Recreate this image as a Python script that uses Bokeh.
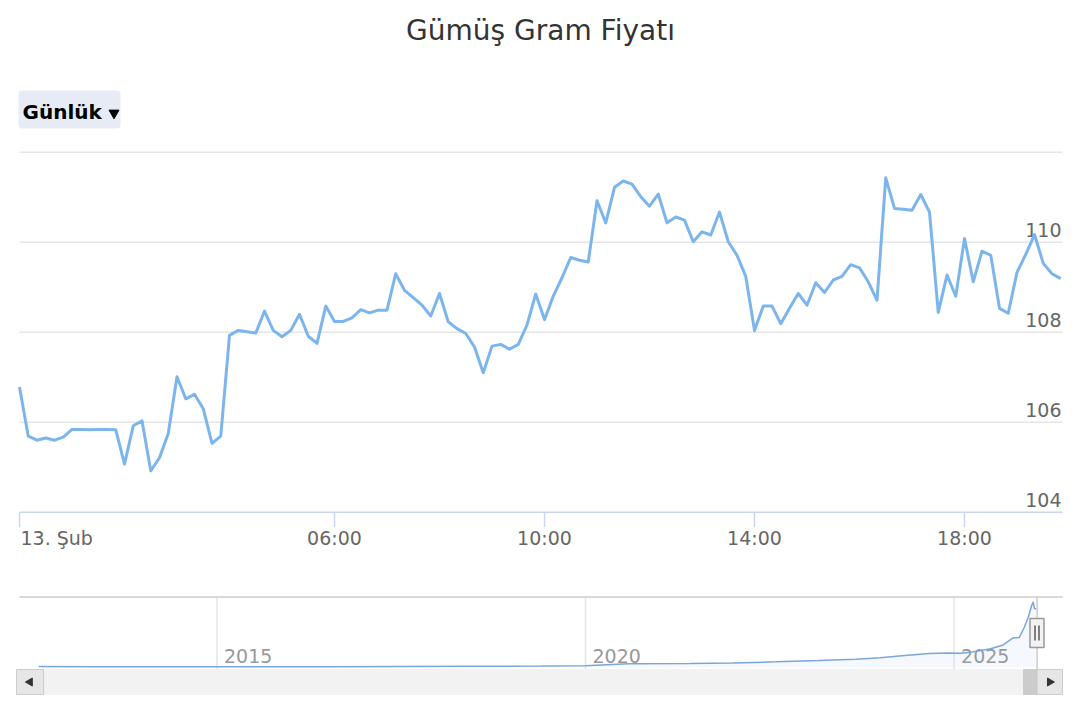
import math
import pandas as pd
from bokeh.plotting import figure
from bokeh.models import Range1d
from bokeh.layouts import column
from bokeh.embed import file_html
from bokeh.resources import INLINE
from bokeh.core.properties import value

# ---------------- data ----------------
chart_title = "Gümüş Gram Fiyatı"
range_button_label = "Günlük"

price_times = pd.date_range("2026-02-13 00:00", periods=120, freq="10min")
price_values = [
    106.78, 105.69, 105.60, 105.65, 105.60, 105.67, 105.84, 105.84, 105.83, 105.84,
    105.84, 105.83, 105.07, 105.92, 106.03, 104.92, 105.21, 105.75, 107.01, 106.52,
    106.62, 106.30, 105.53, 105.69, 107.93, 108.04, 108.01, 107.98, 108.47, 108.04,
    107.90, 108.04, 108.40, 107.91, 107.75, 108.58, 108.24, 108.24, 108.32, 108.50,
    108.43, 108.49, 108.49, 109.30, 108.93, 108.77, 108.60, 108.36, 108.86, 108.23,
    108.08, 107.97, 107.67, 107.10, 107.69, 107.73, 107.62, 107.73, 108.16, 108.85,
    108.28, 108.80, 109.21, 109.66, 109.60, 109.56, 110.92, 110.43, 111.22, 111.36,
    111.29, 111.01, 110.80, 111.07, 110.43, 110.56, 110.49, 110.01, 110.23, 110.16,
    110.67, 110.01, 109.71, 109.24, 108.04, 108.58, 108.58, 108.19, 108.53, 108.86,
    108.60, 109.10, 108.88, 109.16, 109.24, 109.50, 109.43, 109.12, 108.71, 111.43,
    110.75, 110.73, 110.71, 111.06, 110.67, 108.44, 109.27, 108.80, 110.08, 109.12,
    109.80, 109.71, 108.53, 108.42, 109.33, 109.73, 110.17, 109.53, 109.30, 109.19,
]
x_tick_times = pd.to_datetime(["2026-02-13 00:00", "2026-02-13 06:00", "2026-02-13 10:00",
                               "2026-02-13 14:00", "2026-02-13 18:00"])
x_tick_labels = ["13. Şub", "06:00", "10:00", "14:00", "18:00"]
y_ticks = [104, 106, 108, 110, 112]
y_tick_labels = ["104", "106", "108", "110"]

nav_dates = pd.to_datetime([
    "2012-08-01", "2013-06-01", "2014-06-01", "2015-06-01", "2016-06-01", "2017-06-01",
    "2018-06-01", "2019-06-01", "2020-01-01", "2020-08-01", "2021-06-01", "2022-01-01",
    "2022-08-01", "2023-03-01", "2023-09-01", "2024-01-01", "2024-05-01", "2024-09-01",
    "2024-12-01", "2025-02-01", "2025-04-01", "2025-07-01", "2025-09-01", "2025-10-20",
    "2025-11-20", "2025-12-15", "2026-01-05", "2026-01-20", "2026-01-28", "2026-02-03",
    "2026-02-13",
])
nav_values = [
    1.9, 1.5, 1.5, 1.3, 1.6, 2.0, 2.3, 2.6, 3.3, 6.8, 7.5, 8.5,
    10.5, 13.0, 15.5, 18.0, 22.5, 26.0, 27.0, 26.5, 29.0, 35.0, 42.0, 55.0,
    56.0, 75.0, 95.0, 115.0, 122.0, 110.0, 109.0,
]
nav_tick_years = pd.to_datetime(["2015-01-01", "2020-01-01", "2025-01-01"])
nav_tick_labels = ["2015", "2020", "2025"]

FONT = value("DejaVu Sans")

# ---------------- geometry (page pixels) ----------------
W = 1080
BOT_A = 584                     # main figure: page y 0 -> 584
TOP_B, BOT_B = 584, 712         # navigator figure
PX_L, PX_R = 19, 1062           # plot area left/right
Y104 = 511.7
PX_PER_UNIT = 45.0
PX_PER_MIN = 0.875
FIX19, FIX20, FIX28 = 8.0, 6.5, 10.0   # anchor -> baseline correction for text glyphs

def ms(ts):
    return pd.Timestamp(ts).value / 1e6

T0 = ms(x_tick_times[0])

def t_at(px):
    return T0 + (px - PX_L) / PX_PER_MIN * 60000.0

def v_at(py):
    return y_ticks[0] + (Y104 - py) / PX_PER_UNIT

# ---------------- main figure ----------------
pA = figure(width=W, height=BOT_A, output_backend="svg", toolbar_location=None,
            x_range=Range1d(0, W), y_range=Range1d(BOT_A, 0),
            x_axis_location=None, y_axis_location=None, min_border=0)
pA.extra_x_ranges = {"t": Range1d(t_at(0), t_at(W))}
pA.extra_y_ranges = {"v": Range1d(v_at(BOT_A), v_at(0))}
pA.grid.grid_line_color = None
pA.outline_line_color = None
pA.background_fill_color = "white"
pA.border_fill_color = "white"

# title
pA.text(x=[W / 2], y=[40 - FIX28], text=[chart_title], text_align="center",
        text_baseline="alphabetic", text_font=FONT, text_font_size="28px",
        text_color="#333333")

# horizontal grid lines + axis line
grid_colors = ["#ccd6eb"] + ["#e6e6e6"] * (len(y_ticks) - 1)
pA.segment(x0=PX_L, x1=PX_R, y0=y_ticks, y1=y_ticks, y_range_name="v",
           line_color=grid_colors, line_width=1.5)
# x ticks
pA.segment(x0=x_tick_times, x1=x_tick_times, y0=Y104, y1=Y104 + 15, x_range_name="t",
           line_color="#ccd6eb", line_width=1.5)
# x tick labels
pA.text(x=x_tick_times, y=545.7 - FIX19, text=x_tick_labels, x_range_name="t",
        text_align=["left", "center", "center", "center", "center"],
        x_offset=[1, 0, 0, 0, 0], text_baseline="alphabetic",
        text_font=FONT, text_font_size="19px", text_color="#666666")
# y tick labels (inside, right, just above grid line)
pA.text(x=PX_R - 1, y=y_ticks[:4], text=y_tick_labels, y_range_name="v",
        text_align="right", text_baseline="alphabetic", y_offset=-(4 + FIX19),
        text_font=FONT, text_font_size="19px", text_color="#666666")
# series
pA.line(price_times, price_values, x_range_name="t", y_range_name="v",
        line_color="#7cb5ec", line_width=3, line_join="round")

# range selector button
pA.quad(left=18, right=120, top=90, bottom=128, fill_color="#e6ebf5", line_color=None,
        border_radius=4)
pA.text(x=[22], y=[118.3 - FIX20], text=[range_button_label], text_baseline="alphabetic",
        text_font=FONT, text_font_size="20px", text_font_style="bold", text_color="#000000")
pA.scatter(x=[113.5], y=[112.5], marker="inverted_triangle", size=10, color="#000000")

# ---------------- navigator figure ----------------
D2015 = ms(nav_tick_years[0])
MS_YEAR = 365.25 * 86400000.0
PX_PER_YEAR = 73.7
X2015 = 216.5
NAV_BOT, NAV_TOP, NAV_MAXV = 667.0, 601.5, max(nav_values)

def d_at(px):
    return D2015 + (px - X2015) / PX_PER_YEAR * MS_YEAR

def n_at(py):
    return (NAV_BOT - py) / (NAV_BOT - NAV_TOP) * NAV_MAXV

pB = figure(width=W, height=BOT_B - TOP_B, output_backend="svg", toolbar_location=None,
            x_range=Range1d(0, W), y_range=Range1d(BOT_B, TOP_B),
            x_axis_location=None, y_axis_location=None, min_border=0)
pB.extra_x_ranges = {"d": Range1d(d_at(0), d_at(W))}
pB.extra_y_ranges = {"n": Range1d(n_at(BOT_B), n_at(TOP_B))}
pB.grid.grid_line_color = None
pB.outline_line_color = None
pB.background_fill_color = "white"
pB.border_fill_color = "white"

# year grid lines + labels
pB.segment(x0=nav_tick_years, x1=nav_tick_years, y0=597, y1=669, x_range_name="d",
           line_color="#e6e6e6", line_width=1.5)
pB.text(x=nav_tick_years, y=663 - FIX19, text=nav_tick_labels, x_range_name="d", x_offset=7,
        text_baseline="alphabetic", text_font=FONT, text_font_size="19px",
        text_color="#999999")
# navigator series
pB.varea(x=nav_dates, y1=0, y2=nav_values, x_range_name="d", y_range_name="n",
         fill_color="#7cb5ec", fill_alpha=0.08)
pB.line(nav_dates, nav_values, x_range_name="d", y_range_name="n",
        line_color="#7aa6da", line_width=1.5)
# outline
pB.segment(x0=[PX_L], x1=[PX_R], y0=[596.5], y1=[596.5], line_color="#cccccc", line_width=1.5)
HX = 1036.6
pB.segment(x0=[HX], x1=[HX], y0=[596.5], y1=[669], line_color="#cccccc", line_width=1.5)

# scrollbar
SB_T, SB_B = 669, 694
pB.quad(left=43, right=HX, top=SB_T, bottom=SB_B, fill_color="#f2f2f2", line_color="#f2f2f2")
pB.quad(left=1023, right=HX, top=SB_T, bottom=SB_B, fill_color="#cccccc", line_color="#cccccc")
pB.quad(left=[16, HX], right=[43, 1062], top=SB_T, bottom=SB_B,
        fill_color="#e6e6e6", line_color="#cccccc", line_width=1)
pB.scatter(x=[29.5], y=[681.5], marker="triangle", angle=math.pi / 2, size=8, color="#333333")
pB.scatter(x=[1049.3], y=[681.5], marker="triangle", angle=-math.pi / 2, size=8, color="#333333")

# handle
pB.quad(left=1029.5, right=1043.5, top=618, bottom=647, fill_color="#f2f2f2",
        line_color="#999999", line_width=1.5)
pB.segment(x0=[1034.5, 1038.5], x1=[1034.5, 1038.5], y0=625, y1=640,
           line_color="#333333", line_width=1.2)

layout = column(pA, pB, spacing=0)
open("out.html", "w").write(file_html(layout, INLINE))
